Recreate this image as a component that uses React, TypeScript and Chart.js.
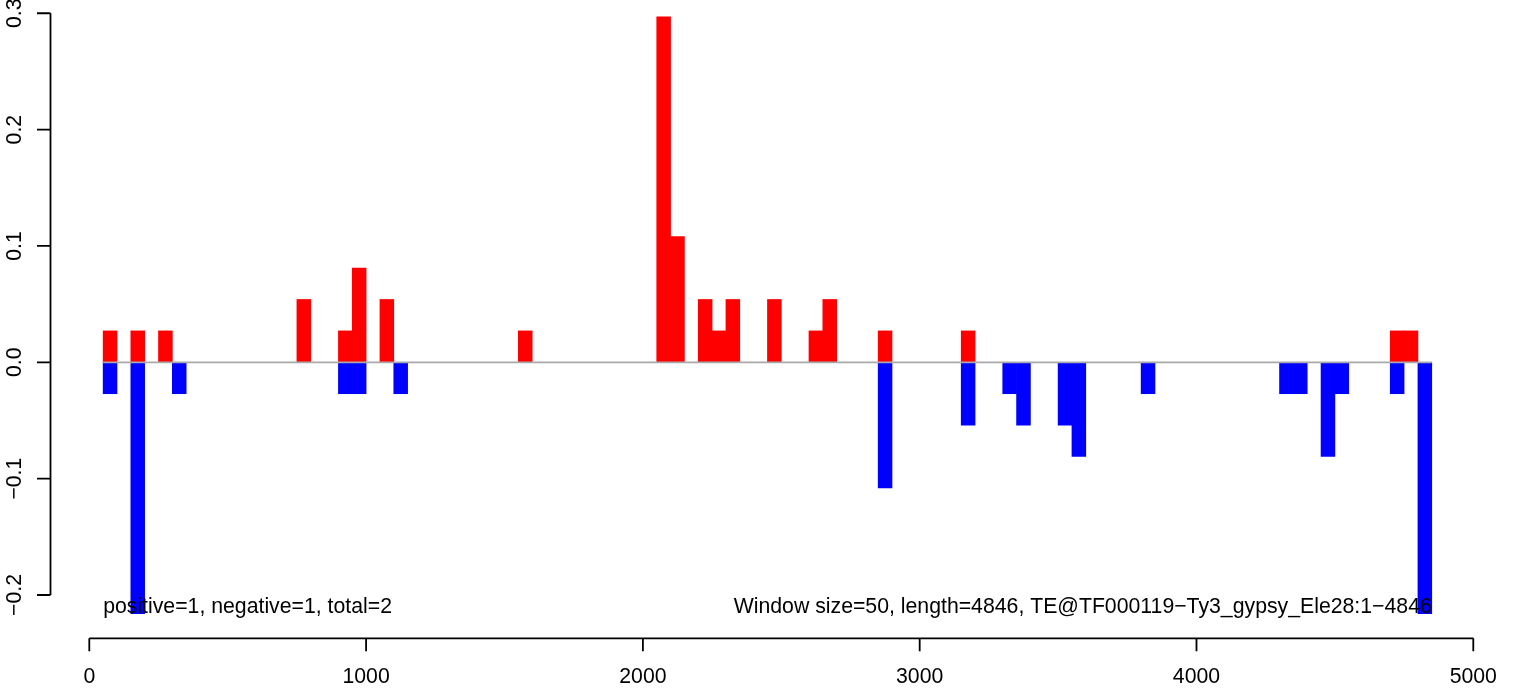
import React, { useEffect, useRef } from "react";
import { Chart, registerables } from "chart.js";

Chart.register(...registerables);

const WINDOW_SIZE = 50;

const redStarts = [50, 150, 250, 750, 900, 950, 1050, 1550, 2050, 2100, 2200, 2250, 2300, 2450, 2600, 2650, 2850, 3150, 4700, 4750];
const redValues = [0.027, 0.027, 0.027, 0.054, 0.027, 0.081, 0.054, 0.027, 0.297, 0.108, 0.054, 0.027, 0.054, 0.054, 0.027, 0.054, 0.027, 0.027, 0.027, 0.027];

const blueStarts = [50, 150, 300, 900, 950, 1100, 2850, 3150, 3300, 3350, 3500, 3550, 3800, 4300, 4350, 4450, 4500, 4700, 4800];
const blueValues = [-0.027, -0.216, -0.027, -0.027, -0.027, -0.027, -0.108, -0.054, -0.027, -0.054, -0.054, -0.081, -0.027, -0.027, -0.027, -0.081, -0.027, -0.027, -0.216];

const xTickValues = [0, 1000, 2000, 3000, 4000, 5000];
const xTickLabels = ["0", "1000", "2000", "3000", "4000", "5000"];
const yTickValues = [-0.2, -0.1, 0, 0.1, 0.2, 0.3];
const yTickLabels = ["\u22120.2", "\u22120.1", "0.0", "0.1", "0.2", "0.3"];

const leftNote = "positive=1, negative=1, total=2";
const rightNote = "Window size=50, length=4846, TE@TF000119\u2212Ty3_gypsy_Ele28:1\u22124846";

const W = 1516;
const H = 689;
const FONT = '21.25px "Liberation Sans", Arial, Helvetica, sans-serif';

export default function App() {
  const ref = useRef<HTMLCanvasElement>(null);

  useEffect(() => {
    const canvas = ref.current;
    if (!canvas) return;

    const allStarts = redStarts.concat(blueStarts);
    const lineStart = Math.min(...allStarts);
    const lineEnd = Math.max(...allStarts) + WINDOW_SIZE;
    const noteY = -0.2155;

    const rAxes = {
      id: "rAxes",
      afterDraw(chart: any) {
        const ctx = chart.ctx as CanvasRenderingContext2D;
        const xs = chart.scales.x;
        const ys = chart.scales.y;
        const area = chart.chartArea;
        ctx.save();

        // zero line
        ctx.strokeStyle = "#A9A9A9";
        ctx.lineWidth = 1.7;
        ctx.beginPath();
        const y0 = ys.getPixelForValue(0);
        ctx.moveTo(xs.getPixelForValue(lineStart), y0);
        ctx.lineTo(xs.getPixelForValue(lineEnd), y0);
        ctx.stroke();

        ctx.strokeStyle = "#000";
        ctx.fillStyle = "#000";
        ctx.lineWidth = 1.8;
        ctx.font = FONT;

        // y axis
        const ax = area.left - 1.5;
        ctx.beginPath();
        ctx.moveTo(ax, ys.getPixelForValue(yTickValues[yTickValues.length - 1]));
        ctx.lineTo(ax, ys.getPixelForValue(yTickValues[0]));
        for (const v of yTickValues) {
          const py = ys.getPixelForValue(v);
          ctx.moveTo(ax, py);
          ctx.lineTo(ax - 13.5, py);
        }
        ctx.stroke();
        yTickValues.forEach((v, i) => {
          const py = ys.getPixelForValue(v);
          ctx.save();
          ctx.translate(20.5, py);
          ctx.rotate(-Math.PI / 2);
          ctx.textAlign = "center";
          ctx.textBaseline = "alphabetic";
          ctx.fillText(yTickLabels[i], 0, 0);
          ctx.restore();
        });

        // x axis
        const ay = area.bottom + 0.3;
        ctx.beginPath();
        ctx.moveTo(xs.getPixelForValue(xTickValues[0]), ay);
        ctx.lineTo(xs.getPixelForValue(xTickValues[xTickValues.length - 1]), ay);
        for (const v of xTickValues) {
          const px = xs.getPixelForValue(v);
          ctx.moveTo(px, ay);
          ctx.lineTo(px, ay + 13);
        }
        ctx.stroke();
        ctx.textAlign = "center";
        ctx.textBaseline = "alphabetic";
        xTickValues.forEach((v, i) => {
          ctx.fillText(xTickLabels[i], xs.getPixelForValue(v), ay + 45);
        });

        // notes
        const ny = ys.getPixelForValue(noteY);
        ctx.textAlign = "left";
        ctx.fillText(leftNote, xs.getPixelForValue(lineStart), ny);
        ctx.textAlign = "right";
        ctx.fillText(rightNote, xs.getPixelForValue(lineEnd), ny);

        ctx.restore();
      },
    };

    const chart = new Chart(canvas, {
      type: "bar",
      data: {
        datasets: [
          {
            label: "positive",
            data: redStarts.map((s, i) => ({ x: s + WINDOW_SIZE / 2, y: redValues[i] })),
            backgroundColor: "#FF0000",
            borderWidth: 0,
            barPercentage: 1,
            categoryPercentage: 1,
            grouped: false,
          } as any,
          {
            label: "negative",
            data: blueStarts.map((s, i) => ({ x: s + WINDOW_SIZE / 2, y: blueValues[i] })),
            backgroundColor: "#0000FF",
            borderWidth: 0,
            barPercentage: 1,
            categoryPercentage: 1,
            grouped: false,
          } as any,
        ],
      },
      options: {
        animation: false,
        responsive: false,
        devicePixelRatio: 1,
        layout: { padding: { left: 52, right: 16, top: 0, bottom: 51 } },
        plugins: { legend: { display: false }, tooltip: { enabled: false } },
        scales: {
          x: {
            type: "linear",
            offset: false,
            min: -134.75,
            max: 5096.5,
            display: false,
            ticks: { includeBounds: false, stepSize: 500 },
          },
          y: {
            type: "linear",
            min: -0.23698,
            max: 0.31141,
            display: false,
          },
        },
      },
      plugins: [rAxes],
    });

    return () => chart.destroy();
  }, []);

  return (
    <div style={{ position: "fixed", left: 0, top: 0, width: W, height: H, background: "#fff" }}>
      <canvas ref={ref} width={W} height={H} style={{ width: W, height: H, display: "block" }} />
    </div>
  );
}
